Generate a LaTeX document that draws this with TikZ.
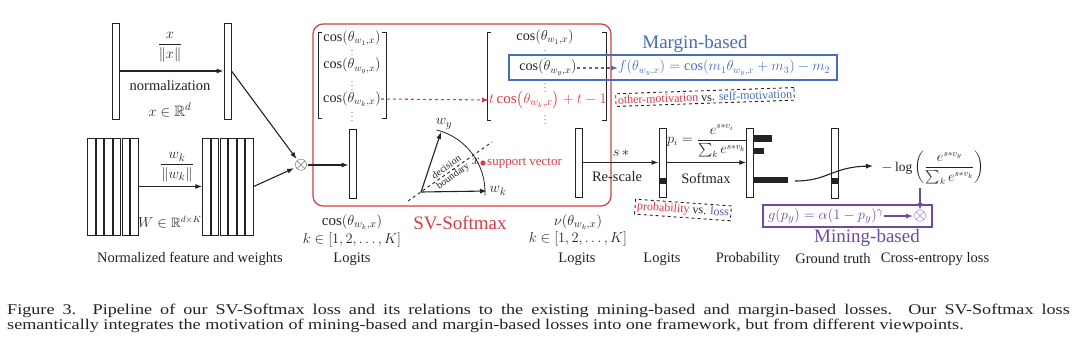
\documentclass[tikz,border=0pt]{standalone}
\usepackage{amsmath,amssymb}
\usepackage{fontspec}
\setmainfont{Liberation Serif}
\usetikzlibrary{arrows.meta,calc}
\definecolor{svred}{RGB}{212,60,72}
\definecolor{mblue}{RGB}{70,110,185}
\definecolor{mpurple}{RGB}{112,72,160}
\definecolor{ink}{RGB}{35,35,35}
\tikzset{
  bar/.style={draw=ink, line width=1pt, fill=white, minimum width=7pt, inner sep=0pt},
  arr/.style={-{Latex[length=7pt,width=5pt]}, line width=1.1pt, draw=ink},
  lbl/.style={font=\fontsize{14.5}{16}\selectfont, text=ink, inner sep=0pt},
  mth/.style={font=\fontsize{15}{17}\selectfont, text=ink, inner sep=0pt},
  mtx/.style={font=\fontsize{14.2}{16}\selectfont, text=ink, inner sep=0pt},
  vd/.style={font=\fontsize{8}{8}\selectfont, text=ink, inner sep=0pt},
  sml/.style={font=\fontsize{10}{11}\selectfont, text=ink, inner sep=0pt},
  big/.style={font=\fontsize{19}{21}\selectfont, inner sep=0pt},
  captxt/.style={font=\fontsize{16.5}{16.5}\selectfont, text=ink, inner sep=0pt, anchor=base west},
  dbox/.style={draw=ink, dashed, line width=0.9pt, inner sep=2pt, font=\fontsize{12}{14}\selectfont, text=ink},
  blk/.style={fill=ink}
}
\begin{document}
\begin{tikzpicture}[x=1pt,y=-1pt]
\useasboundingbox (0,0) rectangle (1080,354);
\fill[white] (0,0) rectangle (1080,354);

% ---- normalized feature
\node[bar, minimum height=96pt] (xa) at (115.5,71) {};
\node[bar, minimum height=96pt] (xb) at (227.5,71) {};
\draw[arr] (xa.east) -- (xb.west);
\node[mth] (xfrac) at (170,47) {$\dfrac{x}{\|x\|}$};
\node[lbl] (norm) at (170,86) {normalization};
\node[mth] (xin) at (170,110) {$x\in\mathbb{R}^d$};

% ---- weights
\foreach \i in {1,...,6} {
  \node[bar, minimum width=7.4pt, minimum height=97pt] (wa\i) at ({91.3+8.6*(\i-1)},186.5) {};
  \node[bar, minimum width=7.4pt, minimum height=97pt] (wb\i) at ({206.5+8.6*(\i-1)},186.5) {};
}
\draw[arr] (wa6.east) -- (wb1.west);
\node[mth] (wfrac) at (177,167) {$\dfrac{w_k}{\|w_k\|}$};
\node[lbl, font=\fontsize{13.5}{15}\selectfont] (win) at (170,222) {$W\in\mathbb{R}^{d\times K}$};
\node[lbl] (nfw) at (190,259) {Normalized feature and weights};

% ---- product
\node[lbl, font=\fontsize{17}{17}\selectfont] (ot1) at (301,165) {$\otimes$};
\draw[arr] (xb.east) -- (ot1);
\draw[arr] (wb6.east) -- (ot1);

% ---- SV-Softmax frame
\node[draw=svred, line width=1.2pt, rounded corners=10pt, minimum width=298pt, minimum height=182pt, inner sep=0pt] (sv) at (462,115) {};
\node[big, text=svred] (svt) at (460,223) {SV-Softmax};

\node[bar, minimum height=69pt] (c1) at (352.5,163.5) {};
\draw[arr] (ot1.east) -- (ot1.east -| c1.west);
\node[mth] (c1a) at (352,222) {$\cos(\theta_{w_k,x})$};
\node[mth] (c1b) at (352,240) {$k\in[1,2,\ldots,K]$};
\node[lbl] (c1c) at (352,259) {Logits};

% left matrix
\draw[ink, line width=1pt] (322,32) -- (318,32) -- (318,118) -- (322,118);
\draw[ink, line width=1pt] (382,32) -- (386,32) -- (386,118) -- (382,118);
\node[mtx] (l1) at (352,38) {$\cos(\theta_{w_1,x})$};
\node[vd] (ld1) at (352,52) {$\vdots$};
\node[mtx] (l2) at (352,66) {$\cos(\theta_{w_y,x})$};
\node[vd] (ld2) at (352,83) {$\vdots$};
\node[mtx] (l3) at (352,99) {$\cos(\theta_{w_k,x})$};
\node[vd] (ld3) at (352,114) {$\vdots$};

% right matrix
\draw[ink, line width=1pt] (491,32) -- (487,32) -- (487,120) -- (491,120);
\draw[ink, line width=1pt] (602,32) -- (606,32) -- (606,120) -- (602,120);
\node[mtx] (r1) at (545,37) {$\cos(\theta_{w_1,x})$};
\node[vd] (rd1) at (545,52) {$\vdots$};
\node[mtx] (r2) at (548,68) {$\cos(\theta_{w_y,x})$};
\node[vd] (rd2) at (545,85) {$\vdots$};
\node[mth, text=svred, anchor=west] (r3) at (489,100) {$t\cos\!\big(\theta_{w_k,x}\big)+t-1$};
\node[vd] (rd3) at (545,117) {$\vdots$};
\draw[arr, draw=svred, dashed] (l3.east) -- (r3.west);

% margin-based
\node[big, text=mblue] (mt) at (695,44) {Margin-based};
\node[draw=mblue, line width=1.2pt, minimum width=328pt, minimum height=25pt, inner sep=0pt] (mbox) at (673,67.5) {};
\node[mth, font=\fontsize{14.3}{16}\selectfont, text=mblue, anchor=west] (fm) at (618,68) {$f(\theta_{w_y,x})=\cos(m_1\theta_{w_y,x}+m_3)-m_2$};
\draw[arr, draw=mblue, dashed] (r2.east) -- (fm.west);
\node[dbox, rotate=2] (mot) at (705,97) {\textcolor{svred}{other-motivation} vs. \textcolor{mblue}{self-motivation}};

% angle diagram
\coordinate (O) at (421,192);
\coordinate (wy) at (441,132);
\coordinate (wk) at (487,191);
\coordinate (db1) at (408,201);
\coordinate (db2) at (492,142);
\draw[ink, line width=0.8pt] (O) ++(-76:64) arc[start angle=-76, end angle=3, radius=64];
\draw[ink, dashed, line width=0.9pt] (db1) -- (db2);
\draw[arr] (O) -- (wy);
\draw[arr] (O) -- (wk);
\node[mth] (wyl) at (444,124) {$w_y$};
\node[mth] (wkl) at (498,191) {$w_k$};
\node[sml, rotate=36, align=center] (dec) at (450,172) {decision\\boundary};
\node[mth] (xl) at (476,161) {$x$};
\fill[svred] (483,163) circle (2.6);
\node[lbl, font=\fontsize{13}{15}\selectfont, text=svred, anchor=west] (spv) at (487,163) {support vector};

% rescale
\node[bar, minimum height=69pt] (cv) at (578.5,162.5) {};
\node[bar, minimum height=69pt] (lg) at (662.5,162.5) {};
\fill[blk] ([yshift=14pt]lg.south west) rectangle ([yshift=20pt]lg.south east);
\draw[arr] (cv.east) -- (lg.west);
\node[mth] (sst) at (621,153) {$s\,*$};
\node[lbl] (rsc) at (617,177) {Re-scale};
\node[mth] (cva) at (578,222) {$\nu(\theta_{w_k,x})$};
\node[mth] (cvb) at (578,239) {$k\in[1,2,\ldots,K]$};
\node[lbl] (cvc) at (577,259) {Logits};
\node[lbl] (lgc) at (662,259) {Logits};
\node[dbox, rotate=-4] (pvl) at (683,210) {\textcolor{svred}{probability} vs. \textcolor{mpurple}{loss}};

% softmax
\node[bar, minimum width=6.5pt, minimum height=69pt] (pb) at (750,162.5) {};
\fill[blk] ([yshift=-7pt]pb.north east) rectangle ++(18,7);
\fill[blk] ([yshift=-20pt]pb.north east) rectangle ++(10,6);
\fill[blk] ([yshift=-49pt]pb.north east) rectangle ++(34,6);
\draw[arr] (lg.east) -- (pb.west);
\node[lbl, font=\fontsize{13.5}{15}\selectfont] (pif) at (707,141) {$p_i=\dfrac{e^{s*v_i}}{\sum_k e^{s*v_k}}$};
\node[lbl] (smx) at (706,178) {Softmax};
\node[lbl] (pbc) at (748,259) {Probability};

% ground truth
\node[bar, minimum height=70pt] (gt) at (834.5,163) {};
\fill[blk] ([yshift=15pt]gt.south west) rectangle ([yshift=21pt]gt.south east);
\coordinate (cs) at (795,181);
\coordinate (cend) at (873,166);
\draw[arr] (cs) .. controls (828,181) and (832,167) .. (cend);
\node[lbl] (gtc) at (833,259) {Ground truth};

% cross-entropy
\node[lbl, font=\fontsize{13.5}{15}\selectfont] (nl) at (933,168) {$-\log\left(\dfrac{e^{s*v_y}}{\sum_k e^{s*v_k}}\right)$};
\node[lbl] (cec) at (935,259) {Cross-entropy loss};

% mining-based
\node[draw=mpurple, line width=1.2pt, minimum width=169pt, minimum height=22pt, inner sep=0pt] (pbox) at (847.5,216) {};
\node[mth, text=mpurple, anchor=west] (gp) at (768,216) {$g(p_y)=\alpha(1-p_y)^{\gamma}$};
\node[lbl, text=mpurple, font=\fontsize{17}{17}\selectfont] (ot2) at (920,216) {$\otimes$};
\draw[arr, draw=mpurple] (gp.east) -- (ot2.west);
\coordinate (nlb) at (920,188);
\draw[arr, draw=mpurple] (nlb) -- (ot2.north);
\node[big, text=mpurple] (mbt) at (867,238) {Mining-based};

% caption
\node[captxt] (cap1) at (7,314) {\scalebox{1.1}[0.9]{\hbox to 966pt{Figure 3. Pipeline of our SV-Softmax loss and its relations to the existing mining-based and margin-based losses.\ \ Our SV-Softmax loss}}};
\node[captxt] (cap2) at (7,329) {\scalebox{1.1}[0.9]{semantically integrates the motivation of mining-based and margin-based losses into one framework, but from different viewpoints.}};
\end{tikzpicture}
\end{document}
